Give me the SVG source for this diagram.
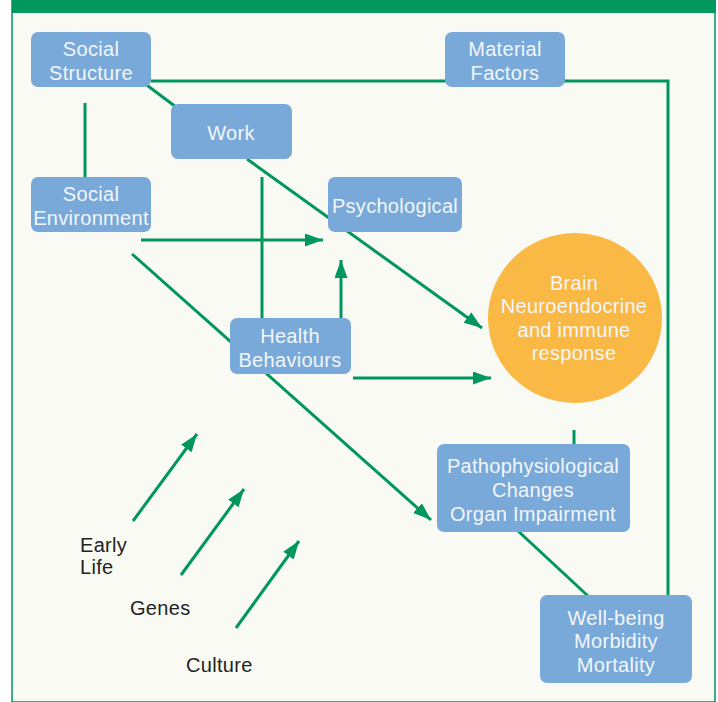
<svg xmlns="http://www.w3.org/2000/svg" width="718" height="702" viewBox="0 0 718 702">
<style>
.box{fill:#79a9d9;}
.bt{font-family:"Liberation Sans",Arial,sans-serif;font-size:20px;fill:#f2f6fb;text-anchor:middle;letter-spacing:0.3px;}
.lbl{font-family:"Liberation Sans",Arial,sans-serif;font-size:20px;fill:#222;letter-spacing:0.3px;}
.ln{stroke:#00965f;stroke-width:3;fill:none;}
</style>
<defs>
<marker id="ah" markerUnits="userSpaceOnUse" markerWidth="19" markerHeight="14" refX="18" refY="6.5" orient="auto">
<path d="M0,0 L18,6.5 L0,13 z" fill="#00965f"/>
</marker>
</defs>
<rect x="0" y="0" width="718" height="702" fill="#ffffff"/>
<rect x="12" y="0" width="703" height="702" fill="#f9faf4" stroke="#00965f" stroke-width="1.5"/>
<rect x="12" y="0" width="704" height="13" fill="#00985f"/>
<g id="connectors">
<polyline class="ln" points="151,81 668,81 668,595"/>
<line class="ln" x1="140" y1="80" x2="180" y2="110"/>
<line class="ln" x1="85" y1="103" x2="85" y2="177"/>
<line class="ln" x1="247" y1="159" x2="482" y2="328" marker-end="url(#ah)"/>
<line class="ln" x1="262" y1="177" x2="262" y2="320"/>
<line class="ln" x1="141" y1="240" x2="323" y2="240" marker-end="url(#ah)"/>
<line class="ln" x1="132" y1="254" x2="431" y2="520" marker-end="url(#ah)"/>
<line class="ln" x1="341" y1="320" x2="341" y2="260" marker-end="url(#ah)"/>
<line class="ln" x1="353" y1="378" x2="491" y2="378" marker-end="url(#ah)"/>
<line class="ln" x1="574" y1="430" x2="574" y2="446"/>
<line class="ln" x1="517" y1="530" x2="588" y2="596"/>
<line class="ln" x1="133" y1="521" x2="197" y2="434" marker-end="url(#ah)"/>
<line class="ln" x1="181" y1="575" x2="244" y2="489" marker-end="url(#ah)"/>
<line class="ln" x1="236" y1="628" x2="299" y2="541" marker-end="url(#ah)"/>
</g>
<g id="social-structure">
<rect class="box" x="31" y="32" width="120" height="55" rx="7"/>
<text class="bt" x="91" y="56">Social</text>
<text class="bt" x="91" y="80">Structure</text>
</g>
<g id="material-factors">
<rect class="box" x="445" y="32" width="120" height="55" rx="7"/>
<text class="bt" x="505" y="56">Material</text>
<text class="bt" x="505" y="80">Factors</text>
</g>
<g id="work">
<rect class="box" x="171" y="104" width="121" height="55" rx="7"/>
<text class="bt" x="231" y="140">Work</text>
</g>
<g id="social-environment">
<rect class="box" x="31" y="177" width="120" height="55" rx="7"/>
<text class="bt" x="91" y="201">Social</text>
<text class="bt" x="91" y="225">Environment</text>
</g>
<g id="psychological">
<rect class="box" x="328" y="177" width="134" height="55" rx="7"/>
<text class="bt" x="395" y="213">Psychological</text>
</g>
<g id="health-behaviours">
<rect class="box" x="230" y="318" width="121" height="56" rx="7"/>
<text class="bt" x="290" y="343">Health</text>
<text class="bt" x="290" y="367">Behaviours</text>
</g>
<g id="brain">
<ellipse cx="575" cy="318" rx="87" ry="85" fill="#fab944"/>
<text class="bt" x="574" y="290">Brain</text>
<text class="bt" x="574" y="313">Neuroendocrine</text>
<text class="bt" x="574" y="337">and immune</text>
<text class="bt" x="574" y="360">response</text>
</g>
<g id="pathophysiological">
<rect class="box" x="437" y="444" width="193" height="88" rx="7"/>
<text class="bt" x="533" y="473">Pathophysiological</text>
<text class="bt" x="533" y="497">Changes</text>
<text class="bt" x="533" y="521">Organ Impairment</text>
</g>
<g id="wellbeing">
<rect class="box" x="540" y="595" width="152" height="88" rx="7"/>
<text class="bt" x="616" y="625">Well-being</text>
<text class="bt" x="616" y="648">Morbidity</text>
<text class="bt" x="616" y="672">Mortality</text>
</g>
<g id="early-life">
<text class="lbl" x="80" y="552">Early</text>
<text class="lbl" x="80" y="574">Life</text>
</g>
<g id="genes">
<text class="lbl" x="130" y="615">Genes</text>
</g>
<g id="culture">
<text class="lbl" x="186" y="672">Culture</text>
</g>
</svg>
